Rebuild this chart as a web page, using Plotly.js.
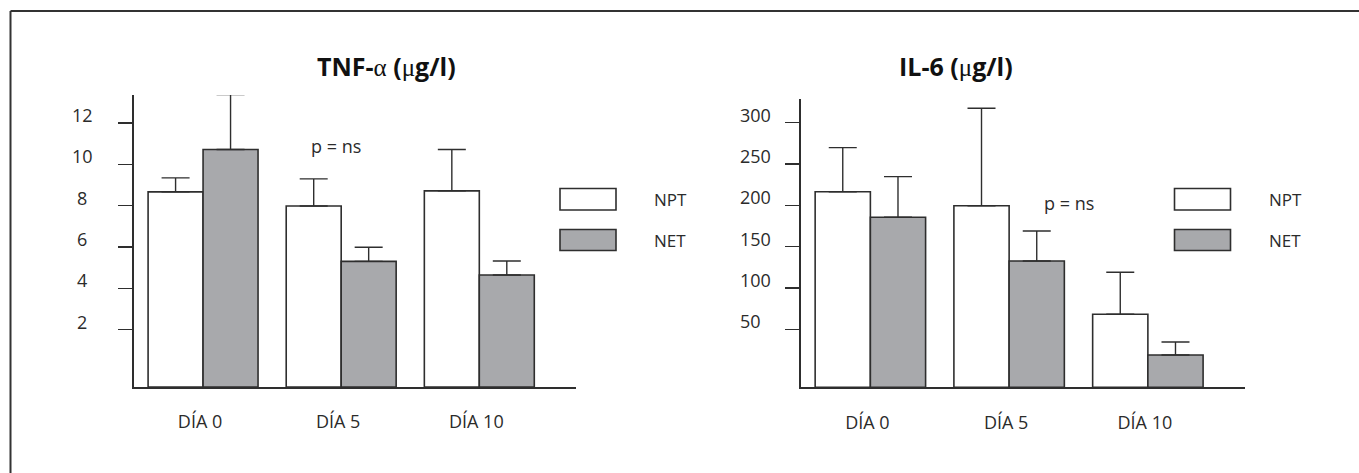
<!DOCTYPE html>
<html>
<head>
<meta charset="utf-8">
<script src="https://cdn.plot.ly/plotly-3.0.1.min.js"></script>
<style>
  html, body { margin: 0; padding: 0; background: #ffffff; }
  #chart { width: 1359px; height: 473px; }
</style>
</head>
<body>
<div id="chart"></div>
<script>
// ---------- DATA ----------
const DAYS = ['DÍA 0', 'DÍA 5', 'DÍA 10'];
const SERIES_NAMES = ['NPT', 'NET'];

// TNF-alpha (µg/l)
const TNF_NPT = [8.66, 7.98, 8.71];
const TNF_NET = [10.71, 5.30, 4.64];
const TNF_NPT_ERR = [0.68, 1.31, 2.00];
const TNF_NET_ERR = [2.66, 0.68, 0.68];
const TNF_TICKS = [2, 4, 6, 8, 10, 12];

// IL-6 (µg/l)
const IL6_NPT = [216.4, 199.5, 68.1];
const IL6_NET = [185.5, 132.6, 18.9];
const IL6_NPT_ERR = [53.3, 117.8, 50.8];
const IL6_NET_ERR = [49.1, 36.3, 15.7];
const IL6_TICKS = [50, 100, 150, 200, 250, 300];

// ---------- STYLE / LAYOUT ----------
const W = 1359, H = 473;
const px = x => x / W;
const py = y => 1 - y / H;

const FONT = '"Open Sans", "Noto Sans", sans-serif';
const TXT = '#2b2b2b';
const EDGE = '#2e2e2e';
const GRAY = '#a8a9ac';

// axis floors (the drawn baseline sits slightly below zero in the original)
const TNF_BASE = -0.78;
const IL6_BASE = -20.2;

const zeros = [0, 0, 0];

function barTrace(name, vals, errs, base, fill, xa, ya) {
  return {
    type: 'bar',
    name: name,
    x: [0, 1, 2],
    y: vals.map(v => v - base),
    base: base,
    xaxis: xa, yaxis: ya,
    marker: { color: fill, line: { color: EDGE, width: 1.6 } },
    error_y: {
      type: 'data', symmetric: false,
      array: errs, arrayminus: zeros,
      color: EDGE, thickness: 1.4, width: 14
    },
    showlegend: false,
    hoverinfo: 'skip'
  };
}

const traces = [
  barTrace(SERIES_NAMES[0], TNF_NPT, TNF_NPT_ERR, TNF_BASE, '#ffffff', 'x', 'y'),
  barTrace(SERIES_NAMES[1], TNF_NET, TNF_NET_ERR, TNF_BASE, GRAY, 'x', 'y'),
  barTrace(SERIES_NAMES[0], IL6_NPT, IL6_NPT_ERR, IL6_BASE, '#ffffff', 'x2', 'y2'),
  barTrace(SERIES_NAMES[1], IL6_NET, IL6_NET_ERR, IL6_BASE, GRAY, 'x2', 'y2')
];

const xCommon = {
  range: [-0.5, 2.7],
  tickmode: 'array',
  tickvals: [0, 1, 2],
  ticktext: DAYS,
  ticks: '',
  showline: true, linecolor: EDGE, linewidth: 1.8,
  showgrid: false, zeroline: false,
  tickfont: { family: FONT, size: 18, color: TXT },
  ticklabelstandoff: 18,
  ticklabelshift: -3,
  fixedrange: true
};
const yCommon = {
  showline: true, linecolor: EDGE, linewidth: 2,
  ticks: 'outside', ticklen: 14, tickwidth: 1.4, tickcolor: EDGE,
  showticklabels: false,
  showgrid: false, zeroline: false,
  fixedrange: true
};

const annotations = [];
// tick labels (sit a bit above their tick marks, as in the original)
TNF_TICKS.forEach(t => annotations.push({
  xref: 'paper', yref: 'y', x: px(82), y: t, yshift: 8,
  text: String(t), showarrow: false, xanchor: 'center', yanchor: 'middle',
  font: { family: FONT, size: 18, color: TXT }
}));
IL6_TICKS.forEach(t => annotations.push({
  xref: 'paper', yref: 'y2', x: px(738), y: t, yshift: 8,
  text: String(t), showarrow: false, xanchor: 'left', yanchor: 'middle',
  font: { family: FONT, size: 18, color: TXT }
}));
// titles
const greek = s => '<span style="font-weight:normal;font-family:\'Liberation Serif\', serif">' + s + '</span>';
annotations.push({
  xref: 'paper', yref: 'paper', x: px(386), y: py(66),
  text: '<b>TNF-</b>' + greek('α') + '<b> (</b>' + greek('μ') + '<b>g/l)</b>',
  showarrow: false, xanchor: 'center', yanchor: 'middle',
  font: { family: FONT, size: 25, color: '#111111' }
});
annotations.push({
  xref: 'paper', yref: 'paper', x: px(956), y: py(66),
  text: '<b>IL-6 (</b>' + greek('μ') + '<b>g/l)</b>',
  showarrow: false, xanchor: 'center', yanchor: 'middle',
  font: { family: FONT, size: 25, color: '#111111' }
});
// p = ns
annotations.push({
  xref: 'paper', yref: 'paper', x: px(335.5), y: py(146),
  text: 'p = ns', showarrow: false, xanchor: 'center', yanchor: 'middle',
  font: { family: FONT, size: 18, color: TXT }
});
annotations.push({
  xref: 'paper', yref: 'paper', x: px(1068.5), y: py(203),
  text: 'p = ns', showarrow: false, xanchor: 'center', yanchor: 'middle',
  font: { family: FONT, size: 18, color: TXT }
});

// legends (drawn boxes + labels)
const shapes = [];
function legend(x0) {
  const boxes = [[188.5, 210, '#ffffff'], [229.5, 250.5, GRAY]];
  boxes.forEach((b, i) => {
    shapes.push({
      type: 'rect', xref: 'paper', yref: 'paper',
      x0: px(x0), x1: px(x0 + 56), y0: py(b[1]), y1: py(b[0]),
      fillcolor: b[2], line: { color: EDGE, width: 1.6 }
    });
    annotations.push({
      xref: 'paper', yref: 'paper', x: px(x0 + 92), y: py((b[0] + b[1]) / 2),
      text: SERIES_NAMES[i], showarrow: false, xanchor: 'left', yanchor: 'middle',
      font: { family: FONT, size: 17, color: TXT }
    });
  });
}
legend(560);
legend(1174.5);

// outer frame (top and left edges)
shapes.push({ type: 'line', xref: 'paper', yref: 'paper',
  x0: px(10.5), x1: 1, y0: py(11), y1: py(11), line: { color: '#333333', width: 2 } });
shapes.push({ type: 'line', xref: 'paper', yref: 'paper',
  x0: px(10.5), x1: px(10.5), y0: 0, y1: py(11), line: { color: '#333333', width: 2 } });

const layout = {
  width: W, height: H,
  margin: { l: 0, r: 0, t: 0, b: 0 },
  paper_bgcolor: '#ffffff', plot_bgcolor: 'rgba(0,0,0,0)',
  font: { family: FONT, color: TXT },
  barmode: 'group', bargap: 0.204, bargroupgap: 0,
  showlegend: false,
  xaxis: Object.assign({}, xCommon, { domain: [px(134), px(576)], anchor: 'y' }),
  yaxis: Object.assign({}, yCommon, { domain: [py(387), py(95)], range: [TNF_BASE, 13.35], tickvals: TNF_TICKS, anchor: 'x' }),
  xaxis2: Object.assign({}, xCommon, { domain: [px(801), px(1245)], anchor: 'y2' }),
  yaxis2: Object.assign({}, yCommon, { domain: [py(387.3), py(99.3)], range: [IL6_BASE, 328.2], tickvals: IL6_TICKS, anchor: 'x2' }),
  annotations: annotations,
  shapes: shapes
};

Plotly.newPlot('chart', traces, layout, { displayModeBar: false, staticPlot: true });
</script>
</body>
</html>
